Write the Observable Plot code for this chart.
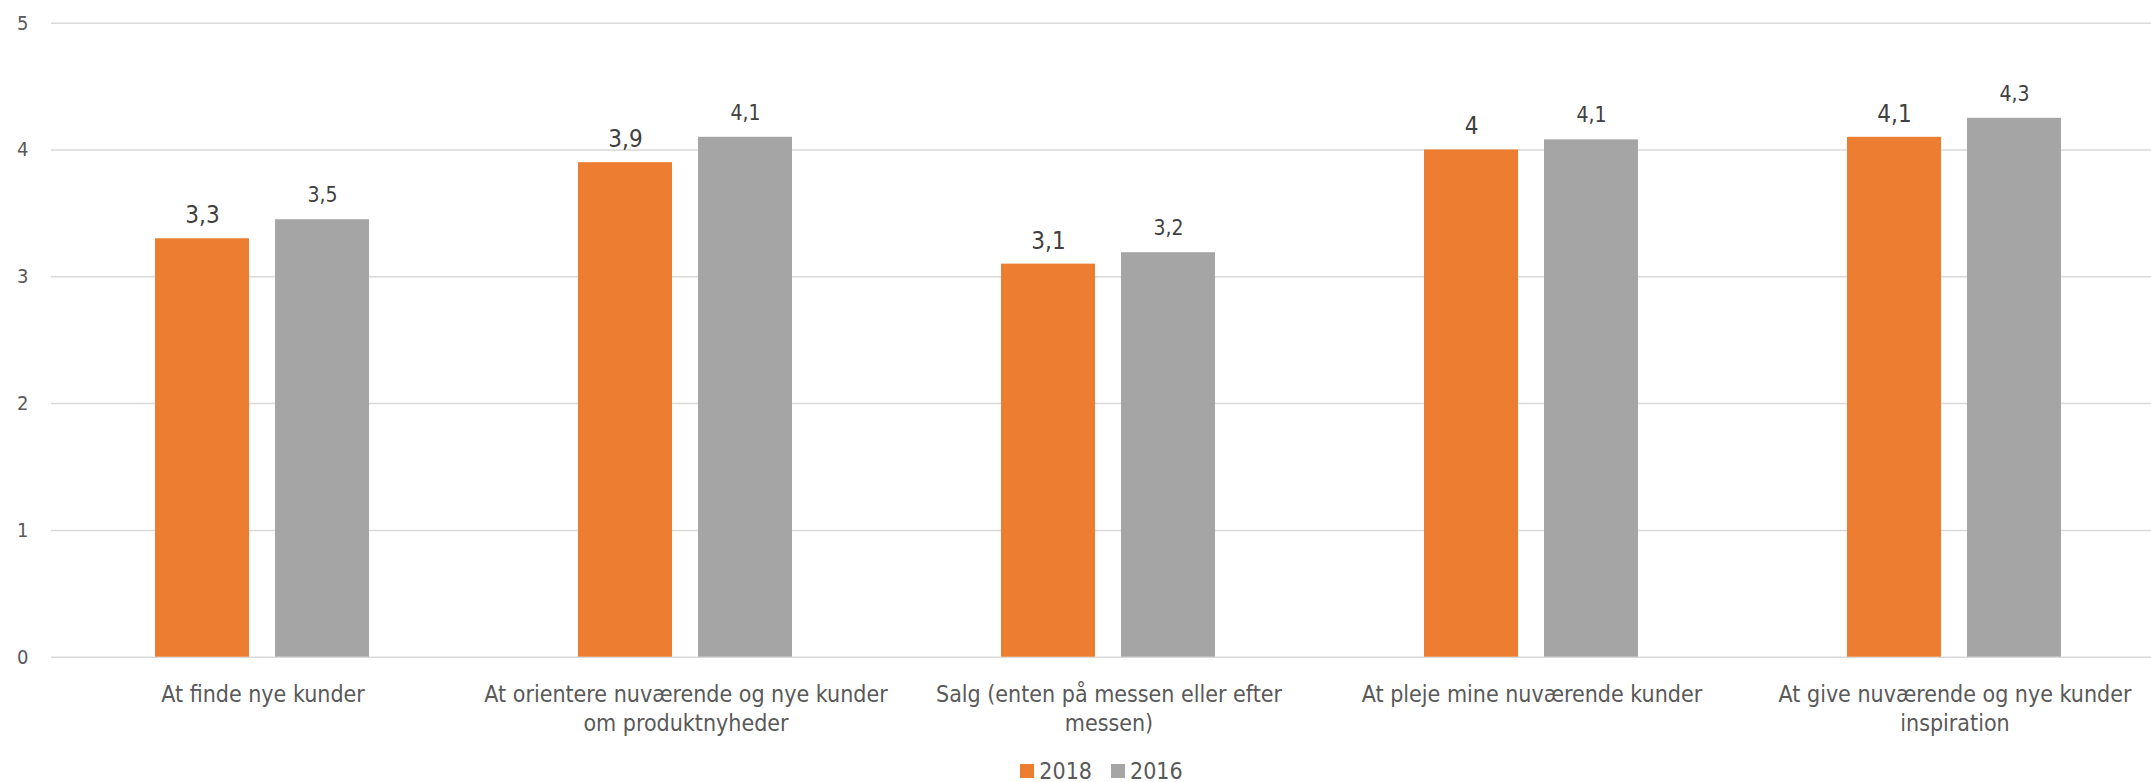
<!DOCTYPE html>
<html>
<head>
<meta charset="utf-8">
<script src="https://cdn.jsdelivr.net/npm/d3@7"></script>
<script src="https://cdn.jsdelivr.net/npm/@observablehq/plot@0.6"></script>
<style>
  html, body { margin: 0; padding: 0; background: #fff; overflow: hidden; }
  body { width: 2151px; height: 782px; position: relative; font-family: "DejaVu Sans Condensed", "DejaVu Sans", sans-serif; }
  #chart svg { display: block; }
  #legend { position: absolute; left: 26px; top: 758px; width: 2151px; display: flex; justify-content: center; align-items: center; gap: 19px; font-size: 23px; color: #595959; line-height: 26px; }
  #legend .item { display: flex; align-items: center; gap: 5px; }
  #legend .sw { width: 14px; height: 14px; display: inline-block; }
</style>
</head>
<body>
<div id="chart"></div>
<div id="legend"></div>
<script>
const categories = [
  "At finde nye kunder",
  "At orientere nuværende og nye kunder om produktnyheder",
  "Salg (enten på messen eller efter messen)",
  "At pleje mine nuværende kunder",
  "At give nuværende og nye kunder inspiration"
];
const categoryLabels = [
  "At finde nye kunder",
  "At orientere nuværende og nye kunder\nom produktnyheder",
  "Salg (enten på messen eller efter\nmessen)",
  "At pleje mine nuværende kunder",
  "At give nuværende og nye kunder\ninspiration"
];
const series = ["2018", "2016"];
const values2018 = [3.3, 3.9, 3.1, 4.0, 4.1];
const values2016 = [3.45, 4.10, 3.19, 4.08, 4.25];
const seriesColors = ["#ED7D31", "#A5A5A5"];
const yTicks = [0, 1, 2, 3, 4, 5];

const data = categories.flatMap((c, i) => [
  {cat: c, series: series[0], value: values2018[i]},
  {cat: c, series: series[1], value: values2016[i]}
]);
const fmt = v => String(Math.round(v * 10) / 10).replace(".", ",");
const labelOf = new Map(categories.map((c, i) => [c, categoryLabels[i]]));
const FONT = "'DejaVu Sans Condensed', 'DejaVu Sans', sans-serif";

const chart = Plot.plot({
  width: 2151,
  height: 745,
  marginLeft: 49,
  marginRight: -17,
  marginTop: 22.7,
  marginBottom: 88.3,
  style: {fontFamily: FONT, background: "#fff", overflow: "hidden"},
  fx: {domain: categories, padding: 0, label: null},
  x: {domain: series, paddingInner: 0.213, paddingOuter: 0.862, axis: null},
  y: {domain: [0, 5], label: null},
  color: {domain: series, range: seriesColors},
  marks: [
    Plot.ruleY(yTicks, {stroke: "#d9d9d9", strokeWidth: 1.5}),
    Plot.axisY({ticks: yTicks, tickFormat: d => String(d), tickSize: 0, tickPadding: 23, fontSize: 20, color: "#595959", label: null}),
    Plot.axisFx({anchor: "bottom", tickSize: 0, tickPadding: 25, fontSize: 23, lineHeight: 1.23, color: "#595959", label: null, tickFormat: d => labelOf.get(d)}),
    Plot.barY(data, {fx: "cat", x: "series", y: "value", fill: "series"}),
    Plot.text(data.filter(d => d.series === series[0]), {fx: "cat", x: "series", y: "value", text: d => fmt(d.value), lineAnchor: "bottom", dy: -15.6, fontSize: 24, fill: "#404040"}),
    Plot.text(data.filter(d => d.series === series[1]), {fx: "cat", x: "series", y: "value", text: d => fmt(d.value), lineAnchor: "bottom", dy: -17.6, fontSize: 21, fill: "#404040"})
  ]
});
document.getElementById("chart").appendChild(chart);

const legend = document.getElementById("legend");
series.forEach((s, i) => {
  const item = document.createElement("div");
  item.className = "item";
  const sw = document.createElement("span");
  sw.className = "sw";
  sw.style.background = seriesColors[i];
  const t = document.createElement("span");
  t.textContent = s;
  item.appendChild(sw);
  item.appendChild(t);
  legend.appendChild(item);
});
</script>
</body>
</html>
